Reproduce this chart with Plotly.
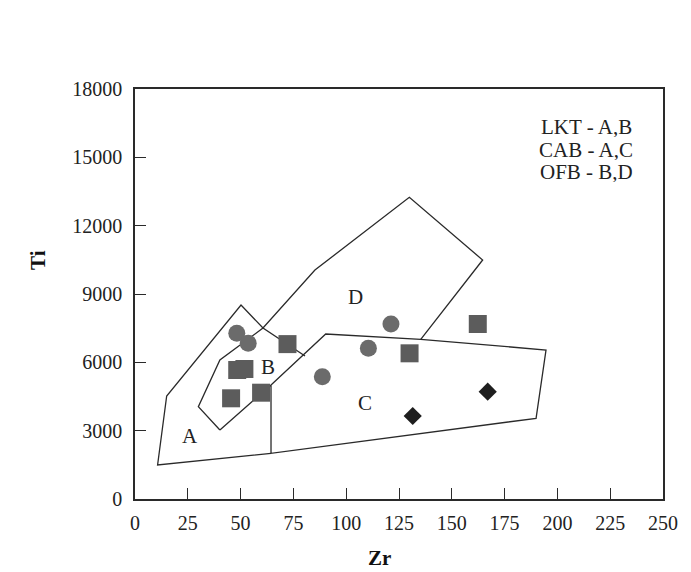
import plotly.graph_objects as go

# Field boundaries (Zr, Ti)
field_A_x = [64.4, 10.7, 15.0, 50.2, 60.6, 80.5]
field_A_y = [2006, 1493, 4522, 8517, 7507, 6278]

field_C_x = [64.4, 64.4, 189.9, 194.6, 135.3, 90.3, 64.4, 40.2]
field_C_y = [5005, 2006, 3543, 6541, 7011, 7244, 5005, 3029]

field_BD_x = [40.2, 30.0, 40.2, 60.6, 85.2, 129.9, 164.6, 135.3]
field_BD_y = [3029, 4052, 6102, 7507, 10053, 13245, 10492, 7011]

# Samples
circle_zr = [48.2, 53.6, 121.2, 110.5, 88.7]
circle_ti = [7274, 6835, 7683, 6616, 5369]

square_zr = [72.2, 48.4, 51.8, 45.5, 59.7, 130.0, 162.3]
square_ti = [6800, 5663, 5707, 4421, 4667, 6396, 7683]

diamond_zr = [131.5, 167.0]
diamond_ti = [3644, 4710]

field_labels = ["A", "B", "C", "D"]
field_label_x = [26.0, 63.1, 108.9, 104.6]
field_label_y = [2748, 5808, 4228, 8881]

legend_lines = ["LKT - A,B", "CAB - A,C", "OFB - B,D"]

x_ticks = [0, 25, 50, 75, 100, 125, 150, 175, 200, 225, 250]
y_ticks = [0, 3000, 6000, 9000, 12000, 15000, 18000]

SERIF = "Liberation Serif, Times New Roman, serif"
LINE = "#2a2a2a"

fig = go.Figure()
for xs, ys in [(field_A_x, field_A_y), (field_C_x, field_C_y), (field_BD_x, field_BD_y)]:
    fig.add_trace(go.Scatter(x=xs, y=ys, mode="lines",
                             line=dict(color=LINE, width=1.3),
                             hoverinfo="skip", showlegend=False))

fig.add_trace(go.Scatter(x=circle_zr, y=circle_ti, mode="markers",
                         marker=dict(symbol="circle", size=17, color="#6b6b6b"),
                         showlegend=False))
fig.add_trace(go.Scatter(x=square_zr, y=square_ti, mode="markers",
                         marker=dict(symbol="square", size=18, color="#5c5c5c"),
                         showlegend=False))
fig.add_trace(go.Scatter(x=diamond_zr, y=diamond_ti, mode="markers",
                         marker=dict(symbol="diamond", size=14, color="#1e1e1e"),
                         showlegend=False))

for t, xv, yv in zip(field_labels, field_label_x, field_label_y):
    fig.add_annotation(x=xv, y=yv, text=t, showarrow=False,
                       font=dict(family=SERIF, size=21, color="#222"))

# plot area in page pixels: left 135, right 663, top 89, bottom 499
def px2paper(px, py):
    return (px - 135) / 528.0, (499 - py) / 410.0

for line, py in zip(legend_lines, [126.7, 149.2, 171.7]):
    xp, yp = px2paper(586, py)
    fig.add_annotation(x=xp, y=yp, xref="paper", yref="paper", text=line,
                       showarrow=False, xanchor="center", yanchor="middle",
                       height=21, borderpad=0,
                       font=dict(family=SERIF, size=21, color="#222"))

xp, yp = px2paper(379, 558)
fig.add_annotation(x=xp, y=yp, xref="paper", yref="paper", text="<b>Zr</b>",
                   showarrow=False, xanchor="center", yanchor="middle",
                   font=dict(family=SERIF, size=21, color="#111"))
xp, yp = px2paper(38, 260)
fig.add_annotation(x=xp, y=yp, xref="paper", yref="paper", text="<b>Ti</b>",
                   showarrow=False, xanchor="center", yanchor="middle", textangle=-90,
                   font=dict(family=SERIF, size=21, color="#111"))

fig.update_xaxes(range=[0, 250], tickvals=x_ticks, ticktext=[str(v) for v in x_ticks],
                 showgrid=False, zeroline=False, showline=True, linecolor=LINE, linewidth=1.5,
                 mirror=True, ticks="inside", ticklen=11, tickwidth=1.3, tickcolor=LINE,
                 ticklabelstandoff=5,
                 tickfont=dict(family=SERIF, size=20, color="#222"))
fig.update_yaxes(range=[0, 18000], tickvals=y_ticks, ticktext=[str(v) for v in y_ticks],
                 showgrid=False, zeroline=False, showline=True, linecolor=LINE, linewidth=1.5,
                 mirror=True, ticks="inside", ticklen=11, tickwidth=1.3, tickcolor=LINE,
                 ticklabelstandoff=7,
                 tickfont=dict(family=SERIF, size=20, color="#222"))

# page has an 8px body margin, so the figure is shrunk/shifted accordingly
fig.update_layout(width=683, height=564, margin=dict(l=127, r=28, t=81, b=73),
                  plot_bgcolor="white", paper_bgcolor="white", showlegend=False)

fig.write_html("out.html")
